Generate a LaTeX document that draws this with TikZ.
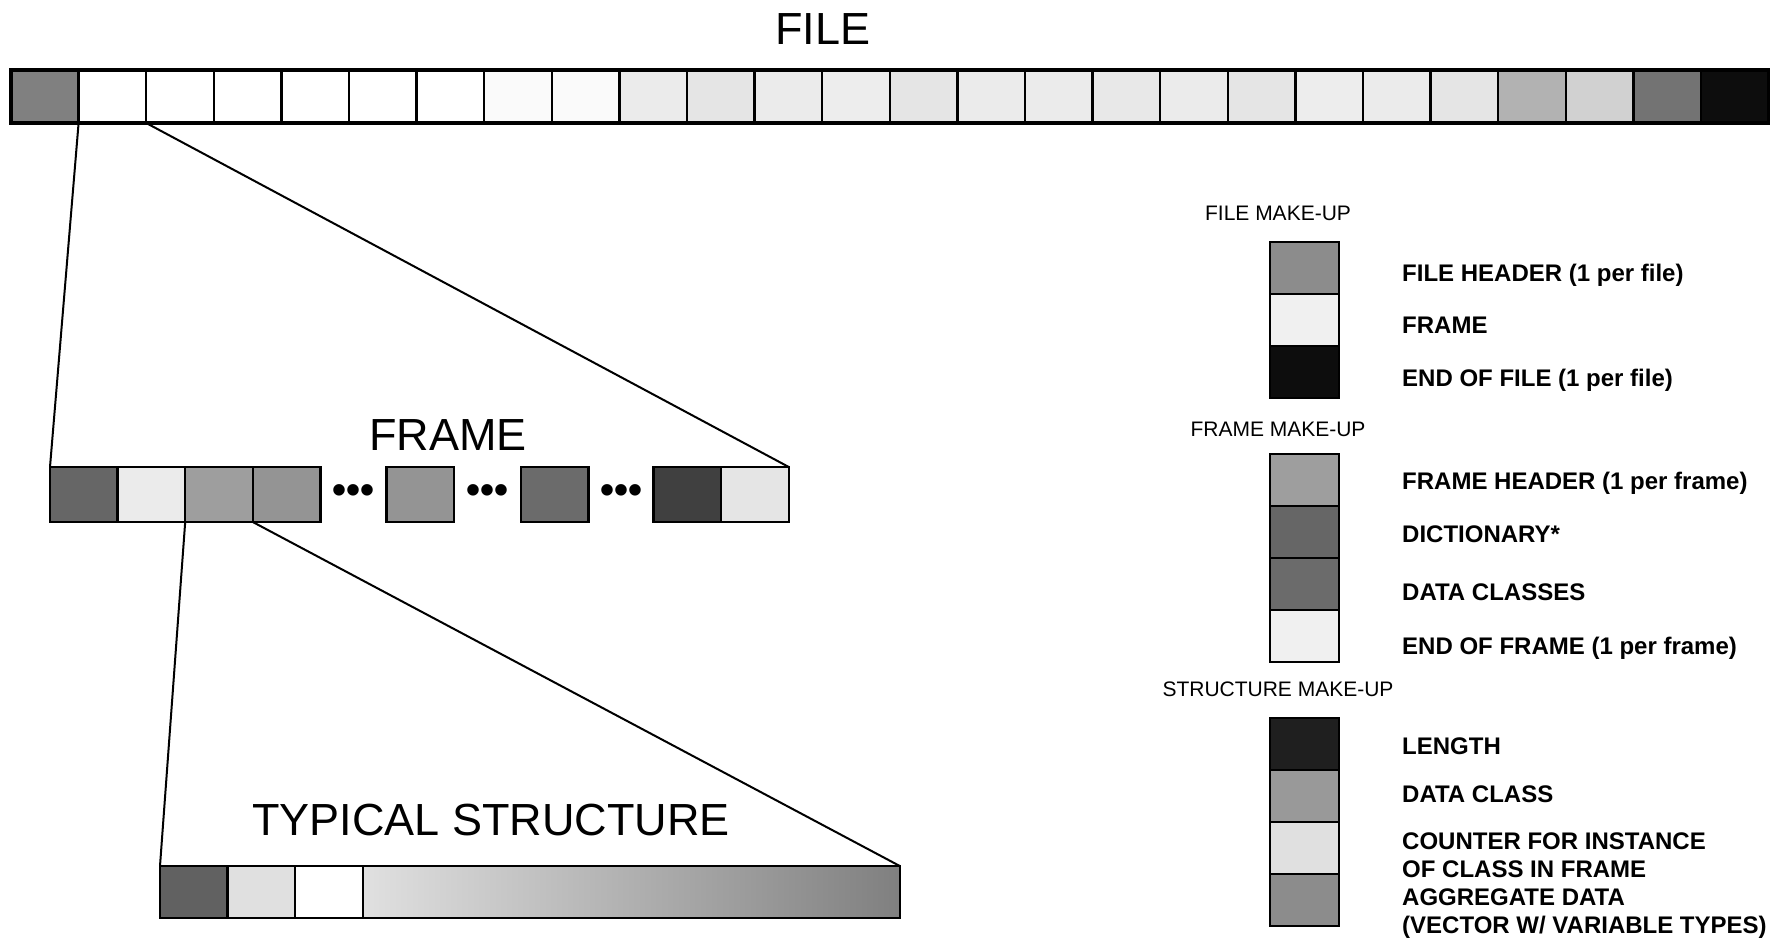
\documentclass[tikz,border=0pt]{standalone}
\usepackage{fontspec}
\setmainfont{Liberation Sans}
\usetikzlibrary{positioning,calc}

\begin{document}
\begin{tikzpicture}[
    x=1pt, y=-1pt,
    cell/.style={
      rectangle, draw, line width=2.4pt,
      minimum width=67.6pt, minimum height=53pt,
      inner sep=0pt, outer sep=0pt
    },
    fcell/.style={cell, minimum height=55pt},
    scell/.style={cell, minimum height=52pt},
    swatch/.style={cell, minimum width=69pt, minimum height=52pt},
    heading/.style={font=\fontsize{45}{54}\selectfont, anchor=base},
    hdr/.style={font=\fontsize{21}{25}\selectfont},
    lbl/.style={font=\bfseries\fontsize{24}{28}\selectfont,
      align=left, inner sep=0pt},
    ellip/.style={font=\bfseries\fontsize{40}{40}\selectfont, inner sep=0pt},
    lead/.style={line width=2pt},
  ]
  \useasboundingbox (0,0) rectangle (1780,945);

  %% ── File ──────────────────────────────────────────────────
  \node[heading] (tfile) at (823,44) {FILE};
  \node[cell, fill=black!50, anchor=west] (f1) at (11,96.5) {};
  \foreach \s [count=\i from 2, remember=\i as \j (initially 1)] in
    {0,0,0,0,0,0,2,2,8,10,8,7,10,8,8,9,8,10,7,8,10,30,18,55,95}
    \node[cell, fill=black!\s, right=0pt of f\j] (f\i) {};
  \draw[line width=3.4pt] (f1.north west) rectangle (f26.south east);

  %% ── Frame ─────────────────────────────────────────────────
  \node[heading] (tframe) at (448,450) {FRAME};
  \node[fcell, fill=black!60, anchor=west] (r1) at (50,494.5) {};
  \node[fcell, fill=black!8,  right=0pt of r1] (r2) {};
  \node[fcell, fill=black!38, right=0pt of r2] (r3) {};
  \node[fcell, fill=black!42, right=0pt of r3] (r4) {};
  \node[fcell, fill=black!42, right=66pt of r4] (r5) {};
  \node[fcell, fill=black!58, right=67pt of r5] (r6) {};
  \node[fcell, fill=black!75, right=65pt of r6] (r7) {};
  \node[fcell, fill=black!10, right=0pt of r7] (r8) {};

  \node[ellip] (dotsA) at ($(r4.east)!0.5!(r5.west)$) {•••};
  \node[ellip] (dotsB) at ($(r5.east)!0.5!(r6.west)$) {•••};
  \node[ellip] (dotsC) at ($(r6.east)!0.5!(r7.west)$) {•••};

  %% ── Typical structure ─────────────────────────────────────
  \node[heading] (tstruct) at (491,835) {TYPICAL STRUCTURE};
  \node[scell, fill=black!62, anchor=west] (s1) at (160,892) {};
  \node[scell, fill=black!12, right=0pt of s1] (s2) {};
  \node[scell, fill=white,    right=0pt of s2] (s3) {};
  \node[scell, minimum width=537pt, left color=black!12, right color=black!50,
        right=0pt of s3] (s4) {};

  %% ── Zoom lines ────────────────────────────────────────────
  \draw[lead] (f1.south east) -- (r1.north west);
  \draw[lead] (f2.south east) -- (r8.north east);
  \draw[lead] (r2.south east) -- (s1.north west);
  \draw[lead] (r3.south east) -- (s4.north east);

  %% ── Legend: file ──────────────────────────────────────────
  \node[hdr] (hfile) at (1278,213) {FILE MAKE-UP};
  \node[swatch, fill=black!45, anchor=north west] (kfh) at (1270,242) {};
  \node[swatch, fill=black!6,  below=0pt of kfh] (kfr) {};
  \node[swatch, fill=black!95, below=0pt of kfr] (keof) {};
  \node[lbl, right=63pt of kfh,  yshift=-7pt] (lfh)  {FILE HEADER (1 per file)};
  \node[lbl, right=63pt of kfr,  yshift=-5pt] (lfr)  {FRAME};
  \node[lbl, right=63pt of keof, yshift=-8pt] (leof) {END OF FILE (1 per file)};

  %% ── Legend: frame ─────────────────────────────────────────
  \node[hdr] (hframe) at (1278,429) {FRAME MAKE-UP};
  \node[swatch, fill=black!38, anchor=north west] (kmh) at (1270,454) {};
  \node[swatch, fill=black!60, below=0pt of kmh] (kdic) {};
  \node[swatch, fill=black!58, below=0pt of kdic] (kdat) {};
  \node[swatch, fill=black!6,  below=0pt of kdat] (keofr) {};
  \node[lbl, right=63pt of kmh,   yshift=-3pt]  (lmh)   {FRAME HEADER (1 per frame)};
  \node[lbl, right=63pt of kdic,  yshift=-2pt]  (ldic)  {DICTIONARY*};
  \node[lbl, right=63pt of kdat,  yshift=-8pt]  (ldat)  {DATA CLASSES};
  \node[lbl, right=63pt of keofr, yshift=-12pt] (leofr) {END OF FRAME (1 per frame)};

  %% ── Legend: structure ─────────────────────────────────────
  \node[hdr] (hstruct) at (1278,689) {STRUCTURE MAKE-UP};
  \node[swatch, fill=black!88, anchor=north west] (klen) at (1270,718) {};
  \node[swatch, fill=black!40, below=0pt of klen] (kcls) {};
  \node[swatch, fill=black!12, below=0pt of kcls] (kcnt) {};
  \node[swatch, fill=black!45, below=0pt of kcnt] (kagg) {};
  \node[lbl, right=63pt of klen, yshift=-2pt]  (llen) {LENGTH};
  \node[lbl, right=63pt of kcls, yshift=2pt]   (lcls) {DATA CLASS};
  \node[lbl, right=63pt of kcnt, yshift=-7pt]  (lcnt) {COUNTER FOR INSTANCE\\OF CLASS IN FRAME};
  \node[lbl, right=63pt of kagg, yshift=-14pt] (lagg) {AGGREGATE DATA\\(VECTOR W/ VARIABLE TYPES)};

\end{tikzpicture}
\end{document}
